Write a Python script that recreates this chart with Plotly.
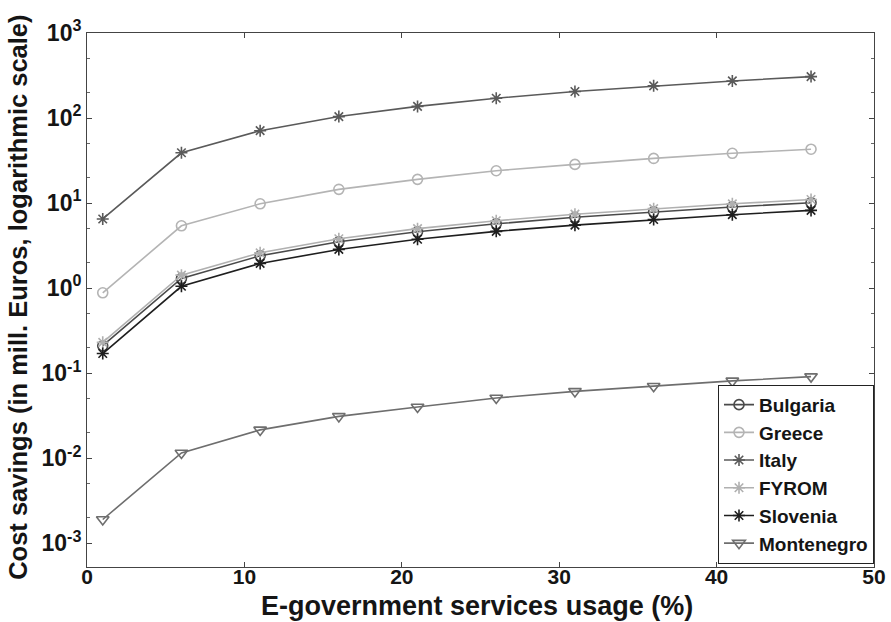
import plotly.graph_objects as go

# E-government usage levels (%)
usage = [1, 6, 11, 16, 21, 26, 31, 36, 41, 46]

# Cost savings per country, million euros
bulgaria = [0.21, 1.30, 2.40, 3.50, 4.60, 5.70, 6.80, 7.90, 9.00, 10.1]
greece = [0.88, 5.40, 9.80, 14.5, 19.0, 24.0, 28.5, 33.5, 38.5, 43.0]
italy = [6.5, 39, 71, 104, 137, 171, 205, 239, 273, 307]
fyrom = [0.23, 1.42, 2.60, 3.80, 5.00, 6.20, 7.40, 8.60, 9.80, 11.0]
slovenia = [0.17, 1.05, 1.95, 2.85, 3.75, 4.65, 5.50, 6.40, 7.30, 8.20]
montenegro = [0.0019, 0.0115, 0.0215, 0.031, 0.040, 0.051, 0.061, 0.070, 0.081, 0.091]

y_tickvals = [1e-3, 1e-2, 1e-1, 1, 10, 100, 1000]
y_ticktext = ["10<sup>-3</sup>", "10<sup>-2</sup>", "10<sup>-1</sup>", "10<sup>0</sup>",
              "10<sup>1</sup>", "10<sup>2</sup>", "10<sup>3</sup>"]
x_tickvals = [0, 10, 20, 30, 40, 50]

series = [
    ("Bulgaria", bulgaria, "#4a4a4a", "circle-open", 10),
    ("Greece", greece, "#b4b4b4", "circle-open", 10),
    ("Italy", italy, "#5a5a5a", "asterisk-open", 10),
    ("FYROM", fyrom, "#b0b0b0", "asterisk-open", 10),
    ("Slovenia", slovenia, "#1e1e1e", "asterisk-open", 10),
    ("Montenegro", montenegro, "#6e6e6e", "triangle-down-open", 11),
]

fig = go.Figure()
for name, vals, color, symbol, size in series:
    fig.add_trace(go.Scatter(
        x=usage, y=vals, name=name, mode="lines+markers",
        line=dict(color=color, width=1.6),
        marker=dict(symbol=symbol, size=size, color=color,
                    line=dict(color=color, width=1.6)),
    ))

font_family = "Liberation Sans, Arial, sans-serif"
text_color = "#151515"

fig.update_layout(
    width=891, height=622,
    margin=dict(l=87, r=17, t=33, b=55),
    paper_bgcolor="white", plot_bgcolor="white",
    font=dict(family=font_family, color=text_color, size=20, weight="bold"),
    showlegend=True,
    legend=dict(
        x=1.0, y=0.006, xanchor="right", yanchor="bottom",
        bgcolor="white", bordercolor="#222222", borderwidth=1,
        font=dict(size=19, color=text_color, weight="bold"),
        itemwidth=30, tracegroupgap=0,
    ),
    xaxis=dict(
        range=[0, 50], tickvals=x_tickvals, automargin=False,
        ticks="inside", ticklen=5, tickcolor="#444",
        showline=True, linecolor="#444", linewidth=1, mirror="ticks",
        showgrid=False, zeroline=False, ticklabelstandoff=-9,
        tickfont=dict(size=21, weight="bold"),
    ),
    yaxis=dict(
        type="log", range=[-3.28, 3], automargin=False,
        tickvals=y_tickvals, ticktext=y_ticktext,
        ticks="inside", ticklen=5, tickcolor="#444",
        minor=dict(ticks="inside", ticklen=3, tickcolor="#666", showgrid=False),
        showline=True, linecolor="#444", linewidth=1, mirror="ticks",
        showgrid=False, zeroline=False,
        tickfont=dict(size=23, weight="bold"),
    ),
    annotations=[
        dict(text="E-government services usage (%)", xref="paper", yref="paper",
             x=0.495, y=-0.073, xanchor="center", yanchor="middle", showarrow=False,
             font=dict(size=27, color=text_color, weight="bold")),
        dict(text="Cost savings (in mill. Euros, logarithmic scale)", xref="paper", yref="paper",
             x=-0.087, y=0.505, xanchor="center", yanchor="middle", showarrow=False,
             textangle=-90, font=dict(size=25.5, color=text_color, weight="bold")),
    ],
)

fig.write_html("out.html")
